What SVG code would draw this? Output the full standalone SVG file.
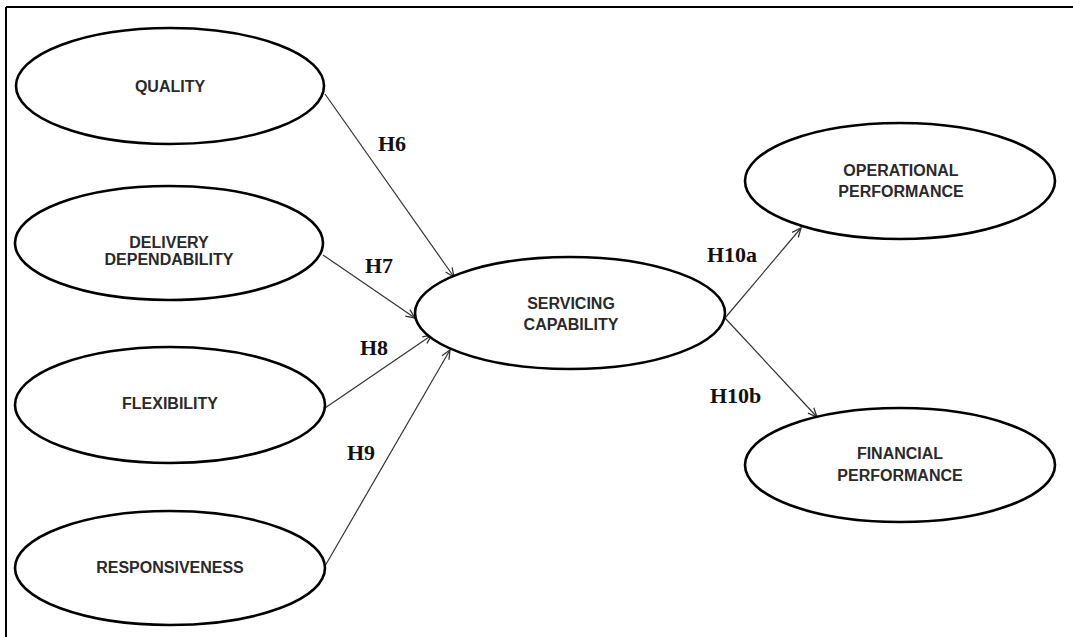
<svg xmlns="http://www.w3.org/2000/svg" width="1073" height="637" viewBox="0 0 1073 637">
  <style>
    .node ellipse { fill: #ffffff; stroke: #000000; stroke-width: 2.6; }
    .node text { font-family: "Liberation Sans", Arial, sans-serif; font-weight: bold; font-size: 16px; fill: #2a2a2a; text-anchor: middle; }
    .edge { stroke: #333333; stroke-width: 1.2; fill: none; marker-end: url(#arrow); }
    .hyp { font-family: "Liberation Serif", "Times New Roman", serif; font-weight: bold; font-size: 22px; fill: #111111; }
    .frame { stroke: #000000; stroke-width: 2; }
  </style>
  <defs>
    <marker id="arrow" markerUnits="userSpaceOnUse" markerWidth="12" markerHeight="12" refX="10" refY="5" orient="auto">
      <path d="M1,1 L10,5 L1,9" fill="none" stroke="#333333" stroke-width="1.3"/>
    </marker>
  </defs>

  <rect width="1073" height="637" fill="#ffffff"/>
  <!-- frame: top and left edges -->
  <line class="frame" x1="6" y1="7" x2="1073" y2="7"/>
  <line class="frame" x1="6" y1="7" x2="6" y2="637"/>

  <g id="connectors">
    <line class="edge" x1="325" y1="94" x2="454" y2="277"/>
    <line class="edge" x1="323" y1="255" x2="415" y2="318"/>
    <line class="edge" x1="325" y1="408" x2="432" y2="335"/>
    <line class="edge" x1="325" y1="566" x2="450" y2="350"/>
    <line class="edge" x1="725" y1="318" x2="801" y2="228"/>
    <line class="edge" x1="725" y1="318" x2="817" y2="417"/>
  </g>

  <g id="labels">
    <text class="hyp" x="378" y="151">H6</text>
    <text class="hyp" x="365" y="273">H7</text>
    <text class="hyp" x="360" y="355">H8</text>
    <text class="hyp" x="347" y="460">H9</text>
    <text class="hyp" x="707" y="262">H10a</text>
    <text class="hyp" x="710" y="403">H10b</text>
  </g>

  <g id="quality" class="node">
    <ellipse cx="170" cy="86" rx="154" ry="58"/>
    <text x="170" y="92">QUALITY</text>
  </g>
  <g id="delivery-dependability" class="node">
    <ellipse cx="169" cy="243" rx="154" ry="57"/>
    <text x="169" y="248">DELIVERY</text>
    <text x="169" y="265">DEPENDABILITY</text>
  </g>
  <g id="flexibility" class="node">
    <ellipse cx="170" cy="405" rx="155" ry="58"/>
    <text x="170" y="409">FLEXIBILITY</text>
  </g>
  <g id="responsiveness" class="node">
    <ellipse cx="170" cy="568" rx="155" ry="57"/>
    <text x="170" y="573">RESPONSIVENESS</text>
  </g>
  <g id="servicing-capability" class="node">
    <ellipse cx="570" cy="313" rx="155" ry="56"/>
    <text x="571" y="309">SERVICING</text>
    <text x="571" y="330">CAPABILITY</text>
  </g>
  <g id="operational-performance" class="node">
    <ellipse cx="900" cy="181" rx="155" ry="58"/>
    <text x="901" y="176">OPERATIONAL</text>
    <text x="901" y="197">PERFORMANCE</text>
  </g>
  <g id="financial-performance" class="node">
    <ellipse cx="900" cy="465" rx="155" ry="57"/>
    <text x="900" y="459">FINANCIAL</text>
    <text x="900" y="481">PERFORMANCE</text>
  </g>
</svg>
